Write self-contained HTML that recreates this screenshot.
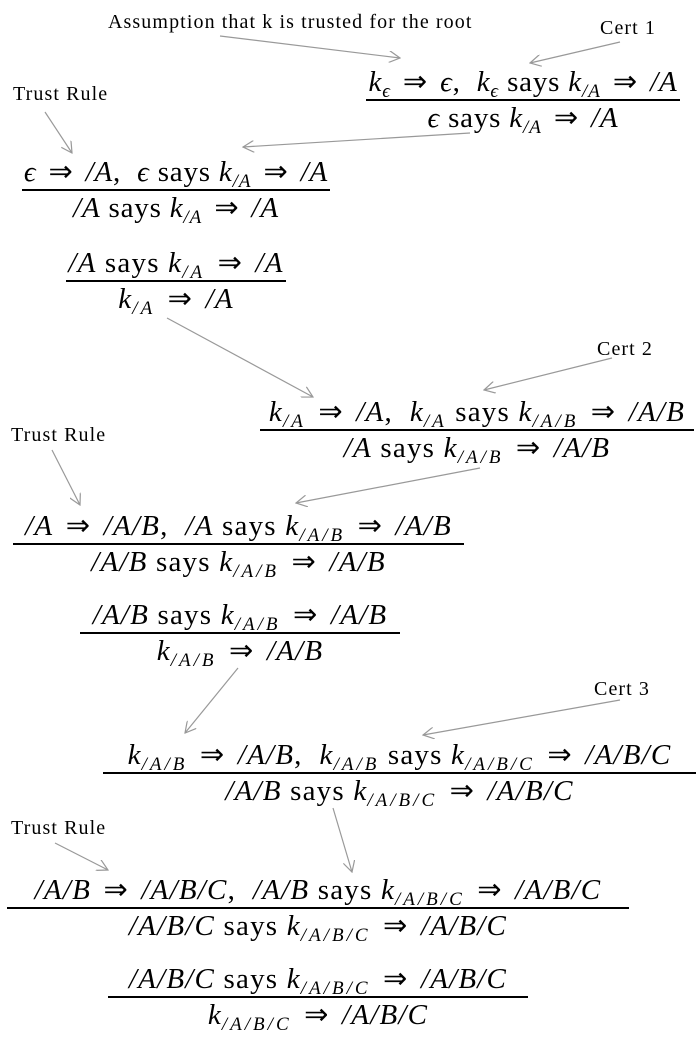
<!DOCTYPE html>
<html><head><meta charset="utf-8"><style>
body{margin:0;width:700px;height:1050px;background:#fff;position:relative;overflow:hidden;font-family:"Liberation Serif",serif;color:#000}
.f{position:absolute;text-align:center;font-size:29px;white-space:nowrap;letter-spacing:1.2px}
.n{height:34px;line-height:34px}
.d{height:34px;line-height:34px;border-top:2px solid #000}
i{font-style:italic}
b{font-weight:normal;margin:0 4px}
sub{font-size:19px;font-style:italic;vertical-align:-6px;line-height:0;letter-spacing:3px}
.t sub{letter-spacing:1px}
.t{letter-spacing:0.8px}
.l{position:absolute;font-size:20px;white-space:nowrap;letter-spacing:1.1px}
</style></head><body>
<div class="l" style="left:108px;top:11px">Assumption that k is trusted for the root</div>
<div class="l" style="left:600px;top:17px">Cert 1</div>
<div class="l" style="left:13px;top:83px">Trust Rule</div>
<div class="l" style="left:597px;top:338px">Cert 2</div>
<div class="l" style="left:11px;top:424px">Trust Rule</div>
<div class="l" style="left:594px;top:678px">Cert 3</div>
<div class="l" style="left:11px;top:817px">Trust Rule</div>

<div class="f t" style="left:366px;top:65px;width:314px"><div class="n"><i>k</i><sub>ϵ</sub> <b>⇒</b> <i>ϵ</i>,&nbsp; <i>k</i><sub>ϵ</sub> says <i>k</i><sub>/A</sub> <b>⇒</b> <i>/A</i></div><div class="d"><i>ϵ</i> says <i>k</i><sub>/A</sub> <b>⇒</b> <i>/A</i></div></div>

<div class="f t" style="left:22px;top:155px;width:308px"><div class="n"><i>ϵ</i> <b>⇒</b> <i>/A</i>,&nbsp; <i>ϵ</i> says <i>k</i><sub>/A</sub> <b>⇒</b> <i>/A</i></div><div class="d"><i>/A</i> says <i>k</i><sub>/A</sub> <b>⇒</b> <i>/A</i></div></div>

<div class="f" style="left:66px;top:246px;width:220px"><div class="n"><i>/A</i> says <i>k</i><sub>/A</sub> <b>⇒</b> <i>/A</i></div><div class="d"><i>k</i><sub>/A</sub> <b>⇒</b> <i>/A</i></div></div>

<div class="f" style="left:260px;top:395px;width:434px"><div class="n"><i>k</i><sub>/A</sub> <b>⇒</b> <i>/A</i>,&nbsp; <i>k</i><sub>/A</sub> says <i>k</i><sub>/A/B</sub> <b>⇒</b> <i>/A/B</i></div><div class="d"><i>/A</i> says <i>k</i><sub>/A/B</sub> <b>⇒</b> <i>/A/B</i></div></div>

<div class="f" style="left:13px;top:509px;width:451px"><div class="n"><i>/A</i> <b>⇒</b> <i>/A/B</i>,&nbsp; <i>/A</i> says <i>k</i><sub>/A/B</sub> <b>⇒</b> <i>/A/B</i></div><div class="d"><i>/A/B</i> says <i>k</i><sub>/A/B</sub> <b>⇒</b> <i>/A/B</i></div></div>

<div class="f" style="left:80px;top:598px;width:320px"><div class="n"><i>/A/B</i> says <i>k</i><sub>/A/B</sub> <b>⇒</b> <i>/A/B</i></div><div class="d"><i>k</i><sub>/A/B</sub> <b>⇒</b> <i>/A/B</i></div></div>

<div class="f" style="left:103px;top:738px;width:593px"><div class="n"><i>k</i><sub>/A/B</sub> <b>⇒</b> <i>/A/B</i>,&nbsp; <i>k</i><sub>/A/B</sub> says <i>k</i><sub>/A/B/C</sub> <b>⇒</b> <i>/A/B/C</i></div><div class="d"><i>/A/B</i> says <i>k</i><sub>/A/B/C</sub> <b>⇒</b> <i>/A/B/C</i></div></div>

<div class="f" style="left:7px;top:873px;width:622px"><div class="n"><i>/A/B</i> <b>⇒</b> <i>/A/B/C</i>,&nbsp; <i>/A/B</i> says <i>k</i><sub>/A/B/C</sub> <b>⇒</b> <i>/A/B/C</i></div><div class="d"><i>/A/B/C</i> says <i>k</i><sub>/A/B/C</sub> <b>⇒</b> <i>/A/B/C</i></div></div>

<div class="f" style="left:108px;top:962px;width:420px"><div class="n"><i>/A/B/C</i> says <i>k</i><sub>/A/B/C</sub> <b>⇒</b> <i>/A/B/C</i></div><div class="d"><i>k</i><sub>/A/B/C</sub> <b>⇒</b> <i>/A/B/C</i></div></div>

<svg width="700" height="1050" style="position:absolute;left:0;top:0" fill="none" stroke="#999" stroke-width="1.2">
<defs><marker id="a" viewBox="0 0 12 12" refX="11" refY="6" markerWidth="12" markerHeight="12" markerUnits="userSpaceOnUse" orient="auto"><path d="M0,0 L11,6 L0,12" fill="none" stroke="#999" stroke-width="1.2"/></marker></defs>
<g marker-end="url(#a)">
<line x1="220" y1="36" x2="400" y2="58"/>
<line x1="620" y1="42" x2="530" y2="63"/>
<line x1="470" y1="133" x2="243" y2="147"/>
<line x1="45" y1="112" x2="72" y2="153"/>
<line x1="167" y1="318" x2="313" y2="397"/>
<line x1="612" y1="358" x2="484" y2="390"/>
<line x1="52" y1="450" x2="80" y2="505"/>
<line x1="480" y1="468" x2="296" y2="503"/>
<line x1="238" y1="668" x2="185" y2="733"/>
<line x1="620" y1="700" x2="423" y2="735"/>
<line x1="55" y1="843" x2="108" y2="870"/>
<line x1="333" y1="808" x2="352" y2="872"/>
</g></svg>
</body></html>
